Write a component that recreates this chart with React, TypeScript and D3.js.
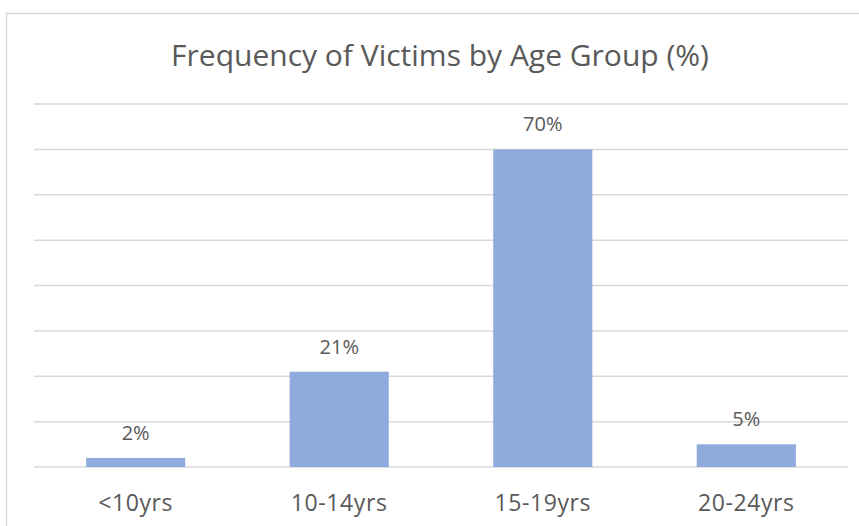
import React from "react";
import * as d3 from "d3";

const categories = ["<10yrs", "10-14yrs", "15-19yrs", "20-24yrs"];
const values = [2, 21, 70, 5];
const yTicks = [0, 10, 20, 30, 40, 50, 60, 70, 80];
const title = "Frequency of Victims by Age Group (%)";

const W = 859;
const H = 526;
const FONT = "'Open Sans', 'Liberation Sans', sans-serif";

export default function App() {
  const x = d3
    .scaleBand<string>()
    .domain(categories)
    .range([34, 848])
    .paddingInner(0.513)
    .paddingOuter(0.256);
  const y = d3.scaleLinear().domain([0, 80]).range([467, 104]);

  return (
    <svg
      width={W}
      height={H}
      style={{ position: "absolute", left: 0, top: 0, background: "#fff" }}
    >
      <rect x={6.5} y={13.5} width={W} height={H} fill="#fff" stroke="#d9d9d9" strokeWidth={1.5} />
      <text
        x={440}
        y={66}
        textAnchor="middle"
        fontFamily={FONT}
        fontSize={30}
        fill="#595959"
      >
        {title}
      </text>
      {yTicks.map((t) => (
        <line
          key={t}
          x1={34}
          x2={848}
          y1={y(t)}
          y2={y(t)}
          stroke="#d9d9d9"
          strokeWidth={1.5}
        />
      ))}
      {categories.map((c, i) => (
        <g key={c}>
          <rect
            x={x(c)}
            y={y(values[i])}
            width={x.bandwidth()}
            height={y(0) - y(values[i])}
            fill="#8faadc"
          />
          <text
            x={(x(c) as number) + x.bandwidth() / 2}
            y={y(values[i]) - 18}
            textAnchor="middle"
            fontFamily={FONT}
            fontSize={20}
            fill="#595959"
          >
            {values[i] + "%"}
          </text>
          <text
            x={(x(c) as number) + x.bandwidth() / 2}
            y={511}
            textAnchor="middle"
            fontFamily={FONT}
            fontSize={23}
            letterSpacing={0.6}
            fill="#595959"
          >
            {c}
          </text>
        </g>
      ))}
    </svg>
  );
}
